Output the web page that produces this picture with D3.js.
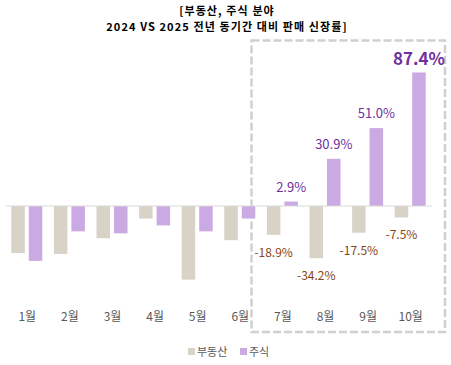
<!DOCTYPE html>
<html><head><meta charset="utf-8">
<script src="https://cdn.jsdelivr.net/npm/d3@7/dist/d3.min.js"></script>
<style>body{margin:0;background:#fff;} svg{display:block;font-family:"Noto Sans CJK KR","Noto Sans",sans-serif;}</style>
</head><body>
<svg id="c" width="451" height="365"></svg>
<script>
const months = ["1월","2월","3월","4월","5월","6월","7월","8월","9월","10월"];
const realEstate = [-30.8,-31.4,-21.1,-8.2,-48.2,-22.4,-18.9,-34.2,-17.5,-7.5];
const stocks = [-35.9,-16.6,-17.9,-12.7,-16.6,-8.2,2.9,30.9,51.0,87.4];
const seriesNames = ["부동산","주식"];
const labeledFrom = 6; // months with data labels (7월~10월)
const titleLines = ["[부동산, 주식 분야","2024 VS 2025 전년 동기간 대비 판매 신장률]"];

const colors = {re:"#D9D3C7", st:"#CBA9E3", reText:"#8B4513", stText:"#7030A0"};
const svg = d3.select("#c");

const x = d3.scaleBand().domain(months).range([6,432]).paddingInner(0).paddingOuter(0);
const y = d3.scaleLinear().domain([0,87.4]).range([206,72.5]);

// title
svg.selectAll("text.title").data(titleLines).join("text")
  .attr("x",227).attr("y",(d,i)=>14.5+i*16).attr("text-anchor","middle")
  .attr("font-size",11).attr("letter-spacing",1.1).attr("font-weight","bold").attr("fill","#000").text(d=>d);

// dashed highlight box
svg.append("rect").attr("x",251.5).attr("y",40.5).attr("width",193.5).attr("height",291.5)
  .attr("fill","none").attr("stroke","#D0D0D0").attr("stroke-width",2.5).attr("stroke-dasharray","8,3");

const bw = 13.5;
const g = svg.append("g");
// bars
g.selectAll("rect.re").data(realEstate).join("rect")
  .attr("x",(d,i)=>x(months[i])+x.bandwidth()/2-bw-2.5).attr("width",bw)
  .attr("y",d=>Math.min(y(d),y(0))).attr("height",d=>Math.abs(y(d)-y(0))).attr("fill",colors.re);
g.selectAll("rect.st").data(stocks).join("rect")
  .attr("x",(d,i)=>x(months[i])+x.bandwidth()/2+1.5).attr("width",bw)
  .attr("y",d=>Math.min(y(d),y(0))).attr("height",d=>Math.abs(y(d)-y(0))).attr("fill",colors.st);

// zero axis line
svg.append("line").attr("x1",6).attr("x2",432).attr("y1",y(0)).attr("y2",y(0))
  .attr("stroke","#D9D9D9").attr("stroke-width",1);

// month labels
const xAxis = svg.append("g").attr("transform","translate(0,312)")
  .call(d3.axisBottom(x).tickSize(0).tickPadding(0));
xAxis.select(".domain").remove();
xAxis.selectAll("text").attr("font-size",12).attr("fill","#595959")
  .attr("font-family","'Noto Sans CJK KR','Noto Sans',sans-serif");

// data labels
const idx = d3.range(labeledFrom, months.length);
svg.selectAll("text.rl").data(idx).join("text")
  .attr("x",i=>x(months[i])+x.bandwidth()/2-bw/2-2.5).attr("y",i=>y(realEstate[i])+22)
  .attr("text-anchor","middle").attr("font-size",12).attr("fill",colors.reText)
  .text(i=>realEstate[i].toFixed(1)+"%");
svg.selectAll("text.sl").data(idx).join("text")
  .attr("x",i=>x(months[i])+x.bandwidth()/2+bw/2+1.5)
  .attr("y",i=>y(stocks[i])-(i===months.length-1?8:10))
  .attr("text-anchor","middle")
  .attr("font-size",i=>i===months.length-1?17:13)
  .attr("font-weight",i=>i===months.length-1?"bold":"normal")
  .attr("fill",colors.stText)
  .text(i=>stocks[i].toFixed(1)+"%");

// legend
const leg = [{n:seriesNames[0],c:colors.re,x:188},{n:seriesNames[1],c:colors.st,x:240}];
const lg = svg.selectAll("g.leg").data(leg).join("g").attr("transform",d=>`translate(${d.x},352)`);
lg.append("rect").attr("x",0).attr("y",-4).attr("width",7).attr("height",7).attr("fill",d=>d.c);
lg.append("text").attr("x",9).attr("y",4).attr("font-size",11).attr("fill","#595959").text(d=>d.n);
</script>
</body></html>
